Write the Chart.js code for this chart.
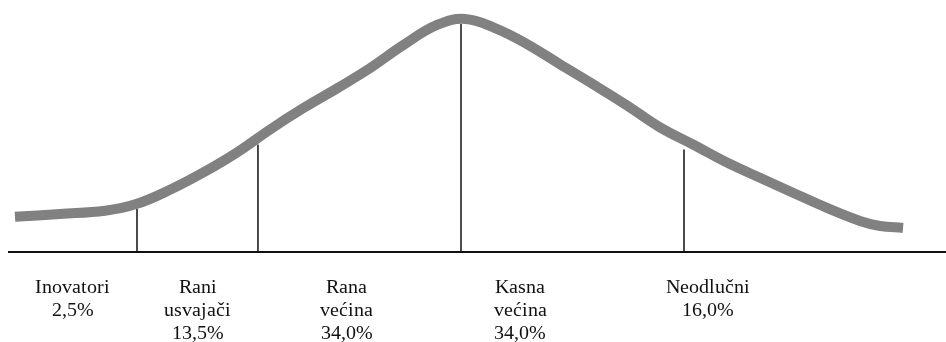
<!DOCTYPE html>
<html>
<head>
<meta charset="utf-8">
<title>Adopcija inovacija</title>
<script src="https://cdn.jsdelivr.net/npm/chart.js@4"></script>
<style>
    @font-face { font-family: "LabelSerif"; src: local("Liberation Serif"), local("LiberationSerif"); }
    body { margin: 0; background: #fff; }
    #chart { display: block; }
    #warm { position: absolute; left: 0; top: 0; color: transparent; font: 20px "LabelSerif", "Liberation Serif"; }
</style>
</head>
<body>
<div id="warm">Inovatori većina 34,0%</div>
<canvas id="chart" width="946" height="342"></canvas>
<script>
// curve (x = position along axis 0-100, y = height 0-100)
var curveX = [0.64, 5.44, 10.25, 13.66, 17.18, 20.7, 24.33, 27.85, 31.38, 35.01, 38.53, 42.05, 45.68, 48.67, 51.87, 55.28, 58.8, 62.33, 65.96, 69.48, 73.0, 76.63, 80.15, 83.67, 87.3, 90.82, 92.96, 95.41];
var curveY = [14.6, 15.8, 17.1, 20.0, 25.8, 32.9, 41.3, 50.8, 59.6, 67.9, 76.3, 85.8, 94.2, 96.7, 92.9, 86.3, 77.9, 69.6, 60.8, 51.7, 44.6, 37.1, 30.8, 24.6, 18.3, 12.9, 10.8, 10.0];

// dividers between groups
var dividerX = [13.66, 26.57, 48.24, 72.04];
var dividerTop = [17.9, 44.6, 94.6, 42.5];

// group labels
var groups = [["Inovatori"], ["Rani", "usvajači"], ["Rana", "većina"], ["Kasna", "većina"], ["Neodlučni"]];
var shares = ["2,5%", "13,5%", "34,0%", "34,0%", "16,0%"];
var labelX = [6.83, 20.17, 36.07, 54.54, 74.6];

var curveData = curveX.map(function (x, i) { return { x: x, y: curveY[i] }; });

var datasets = [
    {
        data: curveData,
        borderColor: "#818181",
        borderWidth: 10,
        borderCapStyle: "butt",
        tension: 0.4,
        pointRadius: 0,
        clip: false
    },
    {
        data: curveData,
        borderColor: "#939393",
        borderWidth: 4,
        borderCapStyle: "butt",
        tension: 0.4,
        pointRadius: 0,
        clip: false
    }
];
dividerX.forEach(function (x, i) {
    datasets.push({
        data: [{ x: x, y: 0 }, { x: x, y: dividerTop[i] }],
        borderColor: "#111",
        borderWidth: 1.5,
        pointRadius: 0,
        clip: false
    });
});

// text under the axis
const groupLabels = {
    id: "groupLabels",
    afterDraw(chart) {
        var ctx = chart.ctx;
        var xs = chart.scales.x;
        var base = chart.chartArea.bottom;
        ctx.save();
        ctx.font = "20px LabelSerif, 'Liberation Serif', serif";
        ctx.fillStyle = "#111";
        ctx.textAlign = "center";
        ctx.textBaseline = "middle";
        groups.forEach(function (g, i) {
            var lines = g.concat([shares[i]]);
            var px = xs.getPixelForValue(labelX[i]);
            lines.forEach(function (t, j) {
                ctx.fillText(t, px, base + 36 + j * 23);
            });
        });
        ctx.restore();
    }
};

function draw() {
    const chrt = document.getElementById("chart");
    new Chart(chrt, {
        type: "line",
        data: { datasets: datasets },
        options: {
            responsive: false,
            animation: false,
            layout: { padding: { left: 9, right: 0, top: 11, bottom: 90 } },
            plugins: { legend: { display: false }, tooltip: { enabled: false } },
            scales: {
                x: {
                    type: "linear",
                    min: 0,
                    max: 100,
                    grid: { display: false },
                    ticks: { display: false },
                    border: { display: true, color: "#111", width: 2 },
                    afterFit: function (s) { s.height = 0; }
                },
                y: {
                    min: 0,
                    max: 100,
                    display: false
                }
            }
        },
        plugins: [groupLabels]
    });
}

document.getElementById("warm").offsetWidth;
document.fonts.load("20px LabelSerif").then(draw, draw);
</script>
</body>
</html>
